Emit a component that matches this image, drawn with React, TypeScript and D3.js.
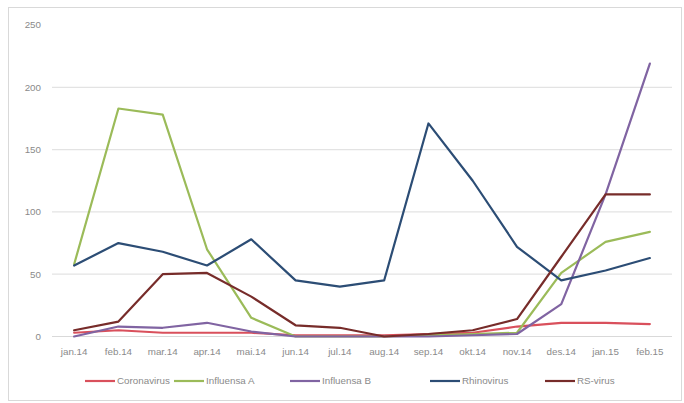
import React from "react";
import * as d3 from "d3";

const months = [
  "jan.14", "feb.14", "mar.14", "apr.14", "mai.14", "jun.14", "jul.14",
  "aug.14", "sep.14", "okt.14", "nov.14", "des.14", "jan.15", "feb.15",
];
const seriesNames = ["Coronavirus", "Influensa A", "Influensa B", "Rhinovirus", "RS-virus"];
const coronavirus = [3, 5, 3, 3, 3, 1, 1, 1, 2, 3, 8, 11, 11, 10];
const influensaA = [58, 183, 178, 70, 15, 0, 0, 0, 1, 2, 3, 51, 76, 84];
const influensaB = [0, 8, 7, 11, 4, 0, 0, 0, 0, 1, 2, 26, 114, 219];
const rhinovirus = [57, 75, 68, 57, 78, 45, 40, 45, 171, 125, 72, 45, 53, 63];
const rsVirus = [5, 12, 50, 51, 32, 9, 7, 0, 2, 5, 14, 64, 114, 114];
const yTicks = [0, 50, 100, 150, 200, 250];
const colors = ["#d9505c", "#9bbb59", "#8064a2", "#2c4d75", "#772c2a"];
const legendX = [85, 174, 290, 430, 545];

const W = 684;
const H = 403;
const left = 52;
const right = 672;
const top = 25;
const bottom = 336.5;
const font = "'Liberation Sans', Arial, sans-serif";

export default function App() {
  const data = [coronavirus, influensaA, influensaB, rhinovirus, rsVirus];
  const x = d3.scaleBand<string>().domain(months).range([left, right]);
  const y = d3.scaleLinear().domain([0, 250]).range([bottom, top]);
  const line = d3
    .line<number>()
    .x((_, i) => (x(months[i]) as number) + x.bandwidth() / 2)
    .y((d) => y(d));

  return (
    <svg
      width={W}
      height={H}
      style={{ position: "absolute", left: 0, top: 0, background: "#fff" }}
    >
      <rect x={8.5} y={7.5} width={673} height={393} fill="#fff" stroke="#d9d9d9" />
      {yTicks.map((t) => (
        <g key={t}>
          {t > 0 && t < 250 && (
            <line x1={left} x2={right} y1={y(t)} y2={y(t)} stroke="#e3e3e3" strokeWidth={1.2} />
          )}
          <text
            x={41}
            y={y(t)}
            dy="0.35em"
            textAnchor="end"
            fontFamily={font}
            fontSize={9.8}
            fill="#8a8a8a"
          >
            {t}
          </text>
        </g>
      ))}
      <line x1={left} x2={right} y1={y(0)} y2={y(0)} stroke="#d9d9d9" strokeWidth={1.2} />
      {months.map((m) => (
        <text
          key={m}
          x={(x(m) as number) + x.bandwidth() / 2}
          y={355}
          textAnchor="middle"
          fontFamily={font}
          fontSize={9.8}
          fill="#8a8a8a"
        >
          {m}
        </text>
      ))}
      {data.map((s, i) => (
        <path
          key={seriesNames[i]}
          d={line(s) as string}
          fill="none"
          stroke={colors[i]}
          strokeWidth={2.2}
          strokeLinejoin="round"
          strokeLinecap="round"
        />
      ))}
      {seriesNames.map((n, i) => (
        <g key={n} transform={`translate(${legendX[i]},381)`}>
          <line x1={0} x2={30} y1={0} y2={0} stroke={colors[i]} strokeWidth={2.2} />
          <text x={32} y={0} dy="0.35em" fontFamily={font} fontSize={9.8} fill="#8a8a8a">
            {n}
          </text>
        </g>
      ))}
    </svg>
  );
}
